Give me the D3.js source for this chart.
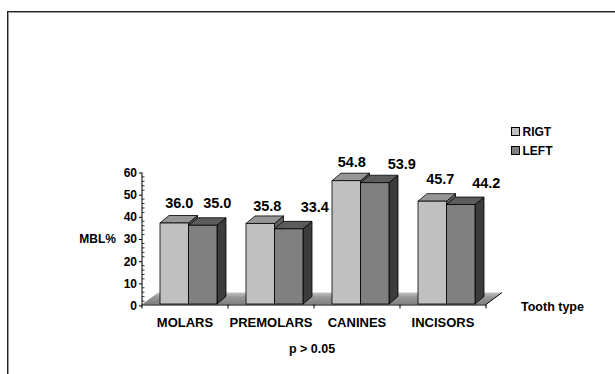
<!DOCTYPE html>
<html>
<head>
<meta charset="utf-8">
<script src="https://cdn.jsdelivr.net/npm/d3@7"></script>
<style>
  html, body { margin: 0; padding: 0; background: #fff; }
  svg { display: block; font-family: "Liberation Sans", Arial, sans-serif; font-weight: bold; }
</style>
</head>
<body>
<svg id="chart" width="615" height="374"></svg>
<script>
// Mean marginal bone loss by tooth type, right vs left side
const categories = ["MOLARS", "PREMOLARS", "CANINES", "INCISORS"];
const series = ["RIGT", "LEFT"];
const rightValues = [36.0, 35.8, 54.8, 45.7];
const leftValues = [35.0, 33.4, 53.9, 44.2];
const yTicks = [0, 10, 20, 30, 40, 50, 60];

const seriesValues = [rightValues, leftValues];
const faceColors = [
  { front: "#c0c0c0", top: "#969696", side: "#5e5e5e" },
  { front: "#808080", top: "#5c5c5c", side: "#3c3c3c" }
];
// small per-label shifts [dx, dy] so value labels clear each other
const labelNudge = [
  [[5, 0], [14.5, -2]],
  [[7, 3], [26, -2]],
  [[5.5, 1], [27, 1.5]],
  [[8, -2], [25.5, -1.5]]
];

const svg = d3.select("#chart");

// frame
svg.append("line").attr("x1", 7).attr("x2", 615).attr("y1", 11.5).attr("y2", 11.5).attr("stroke", "#222");
svg.append("line").attr("x1", 8).attr("x2", 615).attr("y1", 12.5).attr("y2", 12.5).attr("stroke", "#999");
svg.append("line").attr("x1", 7.5).attr("x2", 7.5).attr("y1", 11).attr("y2", 374).attr("stroke", "#222");
svg.append("line").attr("x1", 8.5).attr("x2", 8.5).attr("y1", 12).attr("y2", 374).attr("stroke", "#999");

// scales
const x = d3.scaleBand().domain(categories).range([142, 486]).padding(0);
const xs = d3.scaleBand().domain(series).range([18, 75]).padding(0);
const yAxisScale = d3.scaleLinear().domain([0, 60]).range([305.5, 172.5]);
const yBar = d3.scaleLinear().domain([0, 60]).range([304, 169]);

const depth = { dx: 9, dy: -7.5 };
const floorDepth = { dx: 16, dy: -12 };

// floor
const defs = svg.append("defs");
const grad = defs.append("linearGradient").attr("id", "floorGrad")
  .attr("x1", 0).attr("y1", 0).attr("x2", 0).attr("y2", 1);
grad.append("stop").attr("offset", "0%").attr("stop-color", "#c4c4c4");
grad.append("stop").attr("offset", "35%").attr("stop-color", "#9a9a9a");
grad.append("stop").attr("offset", "100%").attr("stop-color", "#7e7e7e");

const fx0 = x.range()[0], fx1 = x.range()[1], fy = yAxisScale(0) - 1;
svg.append("path")
  .attr("d", `M${fx0},${fy}L${fx0 + floorDepth.dx},${fy + floorDepth.dy}L${fx1 + floorDepth.dx},${fy + floorDepth.dy}L${fx1},${fy}Z`)
  .attr("fill", "url(#floorGrad)");
svg.append("path")
  .attr("d", `M${fx1},${fy}L${fx1 + floorDepth.dx},${fy + floorDepth.dy}`)
  .attr("stroke", "#000").attr("stroke-width", 1);

// bars
const g = svg.append("g");
categories.forEach((cat, ci) => {
  series.forEach((s, si) => {
    const v = seriesValues[si][ci];
    const x0 = x(cat) + xs(s);
    const x1 = x0 + xs.bandwidth();
    const yb = yBar(0);
    const yt = yBar(v);
    const c = faceColors[si];
    const { dx, dy } = depth;
    // side face
    g.append("path")
      .attr("d", `M${x1},${yb}L${x1 + dx},${yb + dy}L${x1 + dx},${yt + dy}L${x1},${yt}Z`)
      .attr("fill", c.side).attr("stroke", "#000").attr("stroke-width", 0.8).attr("stroke-linejoin", "round");
    // top face
    g.append("path")
      .attr("d", `M${x0},${yt}L${x0 + dx},${yt + dy}L${x1 + dx},${yt + dy}L${x1},${yt}Z`)
      .attr("fill", c.top).attr("stroke", "#000").attr("stroke-width", 0.8).attr("stroke-linejoin", "round");
    // front face
    g.append("rect")
      .attr("x", x0).attr("y", yt).attr("width", x1 - x0).attr("height", yb - yt)
      .attr("fill", c.front).attr("stroke", "#000").attr("stroke-width", 0.8);
  });
});

// value labels
categories.forEach((cat, ci) => {
  series.forEach((s, si) => {
    const v = seriesValues[si][ci];
    const cx = x(cat) + xs(s) + xs.bandwidth() / 2;
    const [ndx, ndy] = labelNudge[ci][si];
    svg.append("text")
      .attr("x", cx + ndx).attr("y", yBar(v) - 15 + ndy)
      .attr("text-anchor", "middle")
      .attr("font-size", 14.5)
      .text(v.toFixed(1));
  });
});

// x axis line and category ticks
const xAxis = d3.axisBottom(x).tickSize(0).tickPadding(0).tickFormat("");
const xg = svg.append("g").attr("transform", `translate(0,${yAxisScale(0) - 1})`).call(xAxis);
xg.select(".domain").attr("stroke", "#000").attr("stroke-width", 1.2);
xg.selectAll(".tick").remove();
const boundaries = categories.map(c => x(c)).concat([x.range()[1]]);
svg.selectAll(".cat-tick").data(boundaries).join("line")
  .attr("x1", d => d).attr("x2", d => d)
  .attr("y1", yAxisScale(0) - 1).attr("y2", yAxisScale(0) + 3)
  .attr("stroke", "#000");
svg.selectAll(".cat-label").data(categories).join("text")
  .attr("x", d => x(d) + x.bandwidth() / 2)
  .attr("y", 326.5)
  .attr("text-anchor", "middle")
  .attr("font-size", 13)
  .text(d => d);

// y axis: major ticks outside, minor ticks inside
const yg = svg.append("g").attr("transform", "translate(142,0)")
  .call(d3.axisLeft(yAxisScale).tickValues(yTicks).tickSize(3).tickPadding(2).tickFormat(d3.format("d")));
yg.select(".domain").attr("stroke", "#000").attr("d", `M0,${yAxisScale(60)}V${yAxisScale(0)}`);
yg.selectAll(".tick line").attr("stroke", "#000");
yg.selectAll(".tick text").attr("font-size", 12).attr("font-weight", "bold").attr("fill", "#000")
  .attr("font-family", "Liberation Sans, Arial, sans-serif");
const minor = d3.range(0, 61, 2).filter(v => v % 10 !== 0);
svg.selectAll(".minor").data(minor).join("line")
  .attr("x1", 142).attr("x2", 144.5)
  .attr("y1", d => yAxisScale(d)).attr("y2", d => yAxisScale(d))
  .attr("stroke", "#000").attr("stroke-width", 0.8);

// axis titles
svg.append("text").attr("x", 116).attr("y", 243).attr("text-anchor", "end").attr("font-size", 12).text("MBL%");
svg.append("text").attr("x", 521).attr("y", 310.5).attr("font-size", 12.5).text("Tooth type");
svg.append("text").attr("x", 312).attr("y", 353).attr("text-anchor", "middle").attr("font-size", 12.5).text("p > 0.05");

// legend
const legend = svg.append("g");
series.forEach((s, i) => {
  const ly = 127 + i * 19;
  legend.append("rect").attr("x", 511.5).attr("y", ly + 0.5).attr("width", 8).attr("height", 8)
    .attr("fill", faceColors[i].front).attr("stroke", "#000").attr("stroke-width", 1);
  legend.append("text").attr("x", 522.5).attr("y", ly + 9.2).attr("font-size", 12).text(s);
});
</script>
</body>
</html>
